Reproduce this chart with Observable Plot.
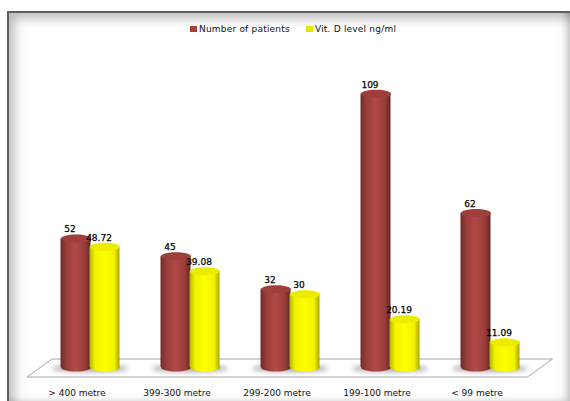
<!DOCTYPE html>
<html>
<head>
<meta charset="utf-8">
<script src="https://cdn.jsdelivr.net/npm/d3@7"></script>
<script src="https://cdn.jsdelivr.net/npm/@observablehq/plot@0.6"></script>
<style>
  html, body { margin: 0; background: #fff; }
  #chart { position: relative; width: 570px; height: 401px; overflow: hidden; font-family: "DejaVu Sans", sans-serif; }
  #chart svg.plot { position: absolute; left: 0; top: 0; background: transparent; }
  /* Shaded frame around the chart area */
  #frame {
    position: absolute; left: 7px; top: 11px; right: -4px; bottom: -6px;
    border-left: 2px solid #5e5e5e; border-top: 2px solid #5e5e5e;
    box-shadow: inset 9px 9px 12px -4px rgba(0,0,0,.28), inset -11px -9px 10px -5px rgba(0,0,0,.3);
  }
  #legend { position: absolute; left: 0; top: 0; font-size: 9px; color: #111; letter-spacing: .2px; }
  #legend span { position: absolute; top: 23px; white-space: nowrap; line-height: 12px; }
  #legend i { position: absolute; top: 26px; width: 7px; height: 6px; }
</style>
</head>
<body>
<svg width="0" height="0" style="position:absolute">
  <defs>
    <linearGradient id="redBody">
      <stop offset="0" stop-color="#6f2b29"/><stop offset=".18" stop-color="#973c39"/>
      <stop offset=".5" stop-color="#b14a47"/><stop offset=".8" stop-color="#9a3d3a"/>
      <stop offset="1" stop-color="#662624"/>
    </linearGradient>
    <linearGradient id="yellowBody">
      <stop offset="0" stop-color="#b5b500"/><stop offset=".18" stop-color="#f2f200"/>
      <stop offset=".5" stop-color="#ffff00"/><stop offset=".82" stop-color="#f2f200"/>
      <stop offset="1" stop-color="#a8a800"/>
    </linearGradient>
  </defs>
</svg>
<div id="chart">
  <div id="frame"></div>
  <div id="legend">
    <i style="left:190px;background:#a5403d"></i><span style="left:199px">Number of patients</span>
    <i style="left:306px;background:#e6e600"></i><span style="left:315px">Vit. D level ng/ml</span>
  </div>
</div>
<script>
const distances = ["> 400 metre", "399-300 metre", "299-200 metre", "199-100 metre", "< 99 metre"];
const seriesNames = ["Number of patients", "Vit. D level ng/ml"];
const patients = [52, 45, 32, 109, 62];
const vitD = [48.72, 39.08, 30, 20.19, 11.09];
const patientLabels = ["52", "45", "32", "109", "62"];
const vitDLabels = ["48.72", "39.08", "30", "20.19", "11.09"];

const rows = distances.flatMap((distance, i) => [
  {distance, series: seriesNames[0], value: patients[i], label: patientLabels[i]},
  {distance, series: seriesNames[1], value: vitD[i], label: vitDLabels[i]}
]);
const groups = distances.map((distance) => ({distance}));

// Flattened circle symbol used for the cylinder caps and floor shadows
const ellipseSymbol = (ratio) => ({
  draw(context, size) {
    const rx = Math.sqrt(size / Math.PI), ry = rx * ratio, k = 0.5523;
    context.moveTo(-rx, 0);
    context.bezierCurveTo(-rx, -k * ry, -k * rx, -ry, 0, -ry);
    context.bezierCurveTo(k * rx, -ry, rx, -k * ry, rx, 0);
    context.bezierCurveTo(rx, k * ry, k * rx, ry, 0, ry);
    context.bezierCurveTo(-k * rx, ry, -rx, k * ry, -rx, 0);
    context.closePath();
  }
});
const cap = ellipseSymbol(0.27);

const bodyFill = (d) => d.series === seriesNames[0] ? "url(#redBody)" : "url(#yellowBody)";
const capFill = (d) => d.series === seriesNames[0] ? "#a03e3b" : "#ecec00";

const blurred = (amount) => (index, scales, values, dimensions, context, next) => {
  const g = next(index, scales, values, dimensions, context);
  g.style.filter = `blur(${amount}px)`;
  return g;
};

// Cylinders stand a little above the zero line, on a sheared floor around it
const cylinderBase = 1.2, floorBack = 4.33, floorFront = -2.76;
const floorLeft = 27, floorRight = 527.5, floorShear = 25;
const floor = (index, {y}) => {
  const yb = y(floorBack), yf = y(floorFront);
  const p = document.createElementNS("http://www.w3.org/2000/svg", "path");
  p.setAttribute("d", `M${floorLeft},${yf}L${floorLeft + floorShear},${yb}H${floorRight + floorShear}L${floorRight},${yf}Z`);
  p.setAttribute("fill", "#fff");
  p.setAttribute("stroke", "#a6a6a6");
  return p;
};

const plot = Plot.plot({
  width: 570,
  height: 401,
  marginLeft: 40,
  marginRight: 31,
  marginTop: 0,
  marginBottom: 21,
  style: {background: "transparent", fontFamily: "DejaVu Sans", color: "#111"},
  fx: {domain: distances, paddingInner: 0.41, paddingOuter: 0.2, label: null},
  x: {domain: seriesNames, padding: 0, axis: null},
  y: {domain: [0, 109], range: [370, 93.4], axis: null},
  marks: [
    Plot.frame({facet: "super", render: floor}),
    Plot.axisFx({anchor: "bottom", tickSize: 0, tickPadding: 9, dx: -13, fontSize: 9, label: null}),
    Plot.dot(groups, {
      fx: "distance", y: () => cylinderBase, frameAnchor: "middle", r: 38, symbol: ellipseSymbol(0.09),
      fill: "#8a8a8a", fillOpacity: 0.75, dy: 1, render: blurred(2.5)
    }),
    Plot.dot(rows, {fx: "distance", x: "series", y: () => cylinderBase, r: 15, symbol: cap, fill: bodyFill}),
    Plot.barY(rows, {fx: "distance", x: "series", y1: () => cylinderBase, y2: "value", fill: bodyFill, insetLeft: -0.5, insetRight: -0.5}),
    Plot.dot(rows, {fx: "distance", x: "series", y: "value", r: 15, symbol: cap, fill: capFill}),
    Plot.text(rows, {
      fx: "distance", x: "series", y: "value", text: "label", dx: -6, dy: -9,
      fontSize: 9, fill: "#000", stroke: "#000", strokeWidth: 0.25
    })
  ]
});
document.getElementById("chart").appendChild(plot);
</script>
</body>
</html>
